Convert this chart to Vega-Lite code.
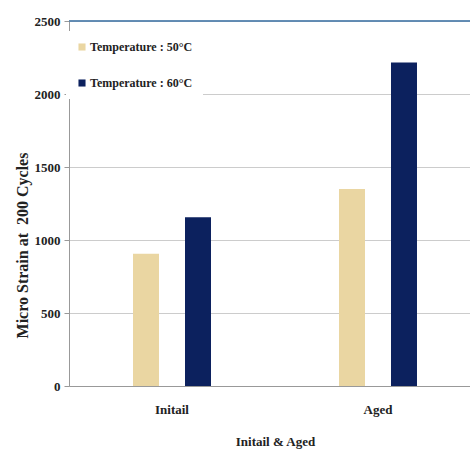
{
  "$schema": "https://vega.github.io/schema/vega-lite/v6.json",
  "width": 412,
  "height": 365,
  "padding": {"left": 14, "top": 15, "right": 0, "bottom": 5},
  "background": "white",
  "data": {
    "values": [
      {"group": "Initail", "temp": "Temperature : 50°C", "strain": 905},
      {"group": "Initail", "temp": "Temperature : 60°C", "strain": 1155},
      {"group": "Aged", "temp": "Temperature : 50°C", "strain": 1350},
      {"group": "Aged", "temp": "Temperature : 60°C", "strain": 2215}
    ]
  },
  "layer": [
    {
      "mark": {"type": "bar"},
      "encoding": {
        "x": {
          "field": "group",
          "type": "nominal",
          "sort": ["Initail", "Aged"],
          "scale": {"paddingInner": 0.1165, "paddingOuter": 0.0583},
          "axis": {
            "title": "Initail & Aged",
            "labelAngle": 0,
            "ticks": false,
            "labelPadding": 17,
            "titlePadding": 19,
            "domainColor": "#999999",
            "grid": false
          }
        },
        "xOffset": {
          "field": "temp",
          "type": "nominal",
          "scale": {"paddingInner": 0.5, "paddingOuter": 1}
        },
        "y": {
          "field": "strain",
          "type": "quantitative",
          "scale": {"domain": [0, 2500], "nice": false},
          "axis": {
            "title": "Micro Strain at\u00a0\u00a0200 Cycles",
            "titleFontSize": 16,
            "titleY": 224,
            "values": [0, 500, 1000, 1500, 2000, 2500],
            "format": "d",
            "tickColor": "#999999",
            "tickSize": 5,
            "labelPadding": 4,
            "titlePadding": 4,
            "domainColor": "#999999",
            "gridColor": "#cccccc"
          }
        },
        "color": {
          "field": "temp",
          "type": "nominal",
          "scale": {"range": ["#EAD6A2", "#0C215E"]},
          "legend": {
            "title": null,
            "orient": "none",
            "legendX": -3,
            "legendY": 10,
            "fillColor": "white",
            "padding": 10,
            "rowPadding": 24,
            "symbolType": "square",
            "symbolSize": 50,
            "symbolOpacity": 1,
            "labelOffset": 2,
            "labelFontSize": 12
          }
        }
      }
    },
    {
      "mark": {"type": "rule", "color": "#5a86b0", "strokeWidth": 1},
      "encoding": {"y": {"datum": 2500, "scale": {"domain": [0, 2500], "nice": false}}}
    }
  ],
  "config": {
    "font": "Liberation Serif",
    "view": {"stroke": null},
    "axis": {
      "labelFont": "Liberation Serif",
      "labelFontWeight": "bold",
      "labelFontSize": 13,
      "labelColor": "#222222",
      "titleFont": "Liberation Serif",
      "titleFontWeight": "bold",
      "titleFontSize": 13,
      "titleColor": "#222222"
    },
    "legend": {
      "labelFont": "Liberation Serif",
      "labelFontWeight": "bold",
      "labelFontSize": 12,
      "labelColor": "#222222"
    }
  }
}
